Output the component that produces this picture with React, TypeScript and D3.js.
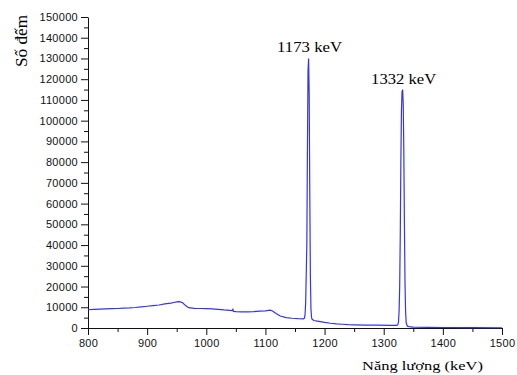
import React, { useEffect, useRef } from 'react'
import * as d3 from 'd3'

// gamma spectrum, energy (keV) vs counts
const energy = [
  800, 810, 820, 830, 840, 850, 860, 870, 880, 890, 900, 910, 920, 930, 940, 945, 950, 955, 960, 965, 970,
  980, 990, 1000, 1010, 1020, 1030, 1040, 1044, 1045, 1046, 1050, 1060, 1070, 1080, 1090, 1100, 1108, 1112,
  1118, 1125, 1135, 1145, 1155, 1164, 1166, 1167, 1168, 1169, 1170, 1171, 1172, 1173, 1174, 1175, 1176, 1177,
  1178, 1179, 1182, 1190, 1200, 1210, 1220, 1230, 1240, 1250, 1270, 1290, 1310, 1322, 1324, 1325, 1326, 1327,
  1328, 1329, 1330, 1331, 1332, 1333, 1334, 1335, 1336, 1337, 1338, 1340, 1345, 1350, 1375, 1400, 1450, 1500,
]
const counts = [
  8800, 9000, 9100, 9200, 9300, 9400, 9600, 9700, 9900, 10200, 10500, 10800, 11100, 11600, 12000, 12300, 12600, 12700, 12200, 10800, 9800,
  9500, 9400, 9300, 9200, 9000, 8700, 8500, 8400, 9000, 8000, 7900, 7800, 7800, 7900, 8100, 8300, 8600, 8200,
  7000, 5800, 5000, 4700, 4500, 4400, 4800, 6500, 12000, 26000, 40000, 85000, 124000, 130000, 112000, 65000, 25000, 9000,
  5000, 4200, 3600, 3200, 2700, 2300, 2000, 1800, 1600, 1500, 1400, 1350, 1300, 1300, 1600, 3000, 8000, 20000,
  45000, 80000, 105000, 114000, 115000, 108000, 85000, 50000, 22000, 8000, 2500, 900, 500, 400, 300, 250, 180, 120,
]
const xTicks = [800, 900, 1000, 1100, 1200, 1300, 1400, 1500]
const yTicks = [0, 10000, 20000, 30000, 40000, 50000, 60000, 70000, 80000, 90000, 100000, 110000, 120000, 130000, 140000, 150000]
const peaks = [
  { label: '1173 keV', e: 1173, c: 130000 },
  { label: '1332 keV', e: 1332, c: 115000 },
]

const App = () => {
  const ref = useRef<SVGSVGElement>(null)

  useEffect(() => {
    const svg = d3.select(ref.current)
    svg.selectAll('*').remove()

    const x = d3.scaleLinear().domain([800, 1500]).range([88, 502])
    const y = d3.scaleLinear().domain([0, 150000]).range([328, 17])

    // minor ticks
    svg.append('g')
      .attr('transform', 'translate(88,0)')
      .call(d3.axisLeft(y).tickValues(d3.range(5000, 150000, 10000)).tickSize(4).tickSizeOuter(0).tickFormat(() => ''))
      .call(g => g.select('.domain').remove())
    svg.append('g')
      .attr('transform', 'translate(0,328)')
      .call(d3.axisBottom(x).tickValues(d3.range(850, 1500, 100)).tickSize(4).tickSizeOuter(0).tickFormat(() => ''))
      .call(g => g.select('.domain').remove())

    // major axes
    svg.append('g')
      .attr('transform', 'translate(88,0)')
      .call(d3.axisLeft(y).tickValues(yTicks).tickSize(7).tickPadding(3).tickSizeOuter(0).tickFormat(d3.format('d')))
    svg.append('g')
      .attr('transform', 'translate(0,328)')
      .call(d3.axisBottom(x).tickValues(xTicks).tickSize(7).tickPadding(4).tickSizeOuter(0).tickFormat(d3.format('d')))

    svg.selectAll('.tick text')
      .attr('font-family', '"Liberation Sans", Arial, sans-serif')
      .attr('font-size', 11)
      .attr('letter-spacing', 0.3)
      .attr('fill', '#111')
    svg.selectAll('.tick line, .domain').attr('stroke', '#111')

    // spectrum
    const pts: [number, number][] = energy.map((e, i) => [e, counts[i]])
    const line = d3.line<[number, number]>().x(d => x(d[0])).y(d => y(d[1]))
    svg.append('path')
      .attr('d', line(pts))
      .attr('fill', 'none')
      .attr('stroke', '#3434f0')
      .attr('stroke-width', 1.2)

    // peak labels
    svg.selectAll('text.peak')
      .data(peaks).enter().append('text')
      .attr('class', 'peak')
      .attr('x', d => x(d.e) + 1)
      .attr('y', d => y(d.c) - 6)
      .attr('text-anchor', 'middle')
      .attr('font-family', '"Liberation Serif", "Times New Roman", serif')
      .attr('font-size', 14)
      .attr('textLength', 65)
      .attr('lengthAdjust', 'spacingAndGlyphs')
      .text(d => d.label)

    // axis titles
    svg.append('text')
      .attr('transform', 'translate(27,41) rotate(-90)')
      .attr('text-anchor', 'middle')
      .attr('font-family', '"Liberation Serif", "Times New Roman", serif')
      .attr('font-size', 16)
      .attr('textLength', 52)
      .attr('lengthAdjust', 'spacingAndGlyphs')
      .text('Số đếm')
    svg.append('text')
      .attr('x', 362)
      .attr('y', 370)
      .attr('font-family', '"Liberation Serif", "Times New Roman", serif')
      .attr('font-size', 13)
      .attr('textLength', 121)
      .attr('lengthAdjust', 'spacingAndGlyphs')
      .text('Năng lượng (keV)')
  }, [])

  return (
    <svg ref={ref} width={517} height={375}
      style={{ position: 'absolute', left: 0, top: 0, background: '#fff' }} />
  )
}

export default App
